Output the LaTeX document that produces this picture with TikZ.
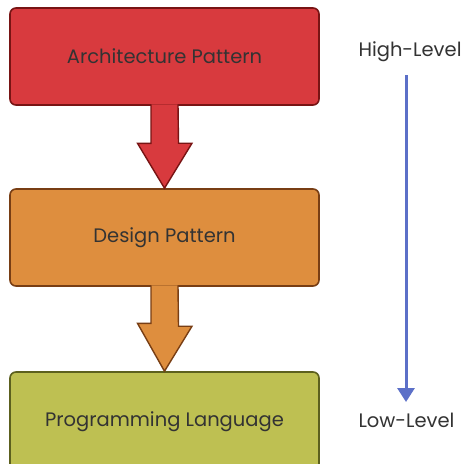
\documentclass[tikz,border=0pt]{standalone}
\usepackage{fontspec}
\setmainfont{Poppins}
\usepackage{tikz}
\usetikzlibrary{arrows.meta}

\definecolor{archred}{RGB}{216,58,62}
\definecolor{archline}{RGB}{120,20,20}
\definecolor{designorange}{RGB}{222,142,62}
\definecolor{designline}{RGB}{120,62,20}
\definecolor{langgreen}{RGB}{190,192,82}
\definecolor{langline}{RGB}{92,96,30}
\definecolor{levelblue}{RGB}{92,112,200}

\begin{document}
\begin{tikzpicture}[x=1pt,y=-1pt,
  level/.style={draw,rounded corners=6pt,line width=1.6pt,minimum width=309pt,
    minimum height=97pt,font=\fontsize{19.5}{22}\selectfont,text=black!80},
  scale label/.style={anchor=west,font=\fontsize{19.5}{22}\selectfont,text=black!80},
  blockarrow/.style={line width=1.4pt,line join=miter}]
\clip (0,0) rectangle (461,464);
\useasboundingbox (0,0) rectangle (461,464);
\fill[white] (0,0) rectangle (461,464);

\node[level,fill=archred,draw=archline] (arch) at (164.5,56.5) {Architecture Pattern};
\node[level,fill=designorange,draw=designline] (design) at (164.5,237.5) {Design Pattern};
\node[level,fill=langgreen,draw=langline,minimum height=100pt] (lang) at (164.5,422) {Programming Language};

% block arrows between the levels
\filldraw[blockarrow,fill=archred,draw=archline]
  ([xshift=-13.5pt,yshift=1.5pt]arch.south) -- ++(0,39) -- ++(-13.5,0)
  -- (design.north) -- ++(27.5,-45) -- ++(-13.5,0) -- ([xshift=13.5pt,yshift=1.5pt]arch.south);
\filldraw[blockarrow,fill=designorange,draw=designline]
  ([xshift=-13.5pt,yshift=1.5pt]design.south) -- ++(0,38) -- ++(-13.5,0)
  -- (lang.north) -- ++(27.5,-45) -- ++(-13.5,0) -- ([xshift=13.5pt,yshift=1.5pt]design.south);

% abstraction scale on the right
\node[scale label] (high) at (355,52) {High-Level};
\node[scale label] (low) at (355,420) {Low-Level};
\coordinate (top) at ([yshift=-23pt]high.center -| 406,0);
\draw[levelblue,line width=3pt,-{Triangle[length=14pt,width=17pt]}]
  (top) -- ([yshift=18pt]low.center -| top);
\end{tikzpicture}
\end{document}
